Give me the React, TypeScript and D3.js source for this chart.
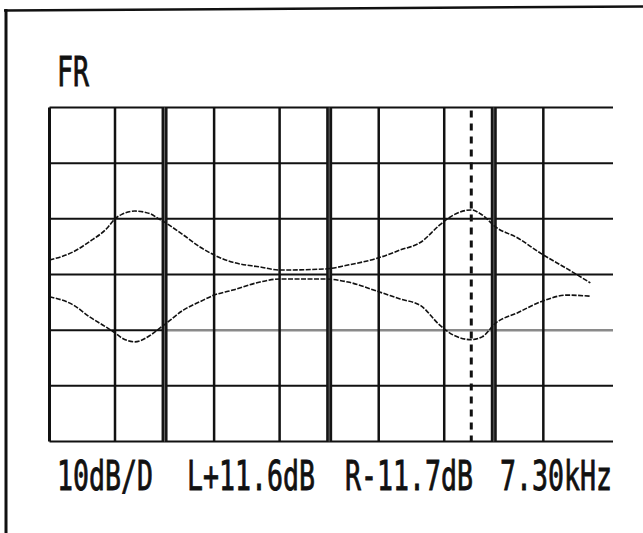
import React from "react";
import * as d3 from "d3";

// frequency response (Hz / dB)
const freqs = [20, 28, 35, 45, 50, 55, 66, 82, 92, 100, 130, 165, 200, 260, 380, 500, 950, 1300, 2000, 2700, 3600, 4700, 5700, 7300, 8500, 10300, 13900, 19300, 28000, 38600];
const leftDb = [2.6, 4.1, 5.9, 8.4, 10.0, 10.8, 11.4, 10.9, 10.0, 9.4, 7.1, 4.9, 3.5, 2.2, 1.35, 0.8, 1.0, 1.7, 3.0, 4.4, 5.8, 8.9, 10.7, 11.6, 10.7, 8.5, 6.6, 3.8, 1.0, -1.5];
const rightDb = [-4.0, -5.5, -7.6, -9.6, -10.5, -11.4, -12.1, -10.9, -9.8, -9.0, -6.4, -4.85, -3.7, -2.8, -1.35, -0.8, -0.8, -1.35, -3.1, -4.4, -5.6, -9.1, -10.9, -11.7, -11.2, -8.7, -6.9, -4.9, -3.7, -3.9];

const majorFreqs = [100, 1000, 10000];
const minorFreqs = [20, 50, 200, 500, 2000, 5000, 20000];
const dbTicks = [30, 20, 10, 0, -10, -20, -30];
const cursorFreq = 7300;

const title = "FR";
const readouts = ["10dB/D", "L+11.6dB", "R-11.7dB", "7.30kHz"];

const width = 643;
const height = 533;
const readoutX = [57, 187, 345, 500];
const charW = 16; // condensed pixel font, ~16px per character

const fontFamily = "'DejaVu Sans Mono', monospace";
const fontSize = 40;
const sx = charW / (0.602 * fontSize);

const ScreenText = ({ x, y, children }: { x: number; y: number; children: string }) => (
  <text
    transform={`translate(${x},${y}) scale(${sx},1)`}
    fontFamily={fontFamily}
    fontSize={fontSize}
    fill="#111"
    stroke="#111"
    strokeWidth={0.9}
  >
    {children}
  </text>
);

const App = () => {
  const x = d3.scaleLog().domain([20, 53000]).range([49.5, 613]);
  const y = d3.scaleLinear().domain([-30, 30]).range([441.5, 107.5]);

  const line = d3
    .line<number>()
    .x((d, i) => x(freqs[i]))
    .y((d) => y(d))
    .curve(d3.curveMonotoneX);

  return (
    <svg
      width={width}
      height={height}
      style={{ position: "absolute", left: 0, top: 0, background: "#fff" }}
    >
      {/* screen frame */}
      <line x1={4} y1={10.5} x2={643} y2={6.5} stroke="#111" strokeWidth={2.5} />
      <line x1={6} y1={9} x2={6} y2={533} stroke="#111" strokeWidth={3} />

      <ScreenText x={57} y={86}>{title}</ScreenText>

      {/* horizontal grid */}
      {dbTicks.map((d) =>
        d === -10 ? (
          <g key={d}>
            <line x1={x(20)} x2={x(100)} y1={y(d)} y2={y(d)} stroke="#111" strokeWidth={2} />
            <line x1={x(100)} x2={x(53000)} y1={y(d)} y2={y(d)} stroke="#8a8a8a" strokeWidth={2.5} />
          </g>
        ) : (
          <line key={d} x1={x(20)} x2={x(53000)} y1={y(d)} y2={y(d)} stroke="#111" strokeWidth={2} />
        )
      )}

      {/* vertical grid */}
      {minorFreqs.map((f) => (
        <line key={f} x1={x(f)} x2={x(f)} y1={y(30)} y2={y(-30)} stroke="#111" strokeWidth={f === 20 ? 3 : 2.5} />
      ))}
      {majorFreqs.map((f) => (
        <g key={f}>
          <line x1={x(f)} x2={x(f)} y1={y(30)} y2={y(-30)} stroke="#151515" strokeWidth={6} />
          <line x1={x(f)} x2={x(f)} y1={y(30)} y2={y(-30)} stroke="#666" strokeWidth={1} />
        </g>
      ))}

      {/* cursor */}
      <line
        x1={x(cursorFreq)}
        x2={x(cursorFreq)}
        y1={y(30) + 3}
        y2={y(-30)}
        stroke="#111"
        strokeWidth={3}
        strokeDasharray="7 6"
      />

      {/* curves */}
      <path d={line(leftDb) || ""} fill="none" stroke="#111" strokeWidth={1.6} strokeDasharray="5 1.5" />
      <path d={line(rightDb) || ""} fill="none" stroke="#111" strokeWidth={1.6} strokeDasharray="5 1.5" />

      {/* readouts */}
      {readouts.map((t, i) => (
        <ScreenText key={t} x={readoutX[i]} y={490}>
          {t}
        </ScreenText>
      ))}
    </svg>
  );
};

export default App;
